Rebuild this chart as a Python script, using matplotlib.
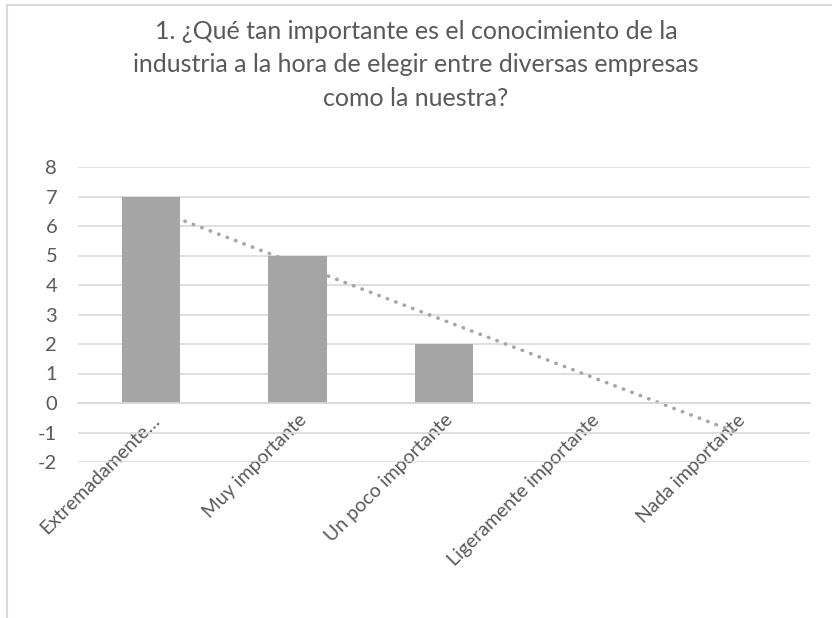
import matplotlib.pyplot as plt
import numpy as np
from matplotlib.patches import Rectangle

# Data
categorias = ['Extremadamente…', 'Muy importante', 'Un poco importante',
              'Ligeramente importante', 'Nada importante']
valores = [7, 5, 2, 0, 0]
y_ticks = [-2, -1, 0, 1, 2, 3, 4, 5, 6, 7, 8]
titulo = ('1. ¿Qué tan importante es el conocimiento de la\n'
          'industria a la hora de elegir entre diversas empresas\n'
          'como la nuestra?')

plt.rcParams['font.family'] = ['Lato', 'DejaVu Sans']
plt.rcParams['axes.unicode_minus'] = False
texto = '#595959'
gris = '#a5a5a5'
rejilla = '#d9d9d9'

fig = plt.figure(figsize=(8.32, 6.18), dpi=100)
ax = fig.add_axes([78 / 832, 1 - 462 / 618, 732 / 832, 295 / 618])

x = np.arange(1, len(valores) + 1)

# linear trendline (behind the bars, like Excel)
m, b = np.polyfit(x, valores, 1)
ax.plot(x, m * x + b, color=gris, lw=2.6, linestyle=(0, (0.1, 2.4)),
        dash_capstyle='round', zorder=1)

ax.bar(x, valores, width=0.4, color=gris, zorder=2)

ax.set_xlim(0.5, len(valores) + 0.5)
ax.set_ylim(-2, 8)
ax.set_yticks(y_ticks)
ax.yaxis.grid(True, color=rejilla, lw=1.2, zorder=0)
ax.set_axisbelow(True)

for s in ['top', 'right', 'left']:
    ax.spines[s].set_visible(False)
ax.spines['bottom'].set_position(('data', 0))
ax.spines['bottom'].set_color(rejilla)
ax.spines['bottom'].set_linewidth(1.2)

ax.set_xticks(x)
ax.set_xticklabels(categorias, rotation=45, ha='right', rotation_mode='anchor')
ax.tick_params(axis='x', length=0, pad=6, labelsize=14, labelcolor=texto)
ax.tick_params(axis='y', length=0, pad=15, labelsize=14.5, labelcolor=texto)

fig.text(0.5, 1 - 20 / 618, titulo, ha='center', va='top', fontsize=18,
         color=texto, linespacing=1.55)

# chart border
fig.patches.append(Rectangle((7 / 832, -0.1), 1.0, 1 - 5 / 618 + 0.1,
                             transform=fig.transFigure, fill=False,
                             edgecolor=rejilla, lw=1.5))

plt.savefig('out.png', dpi=100)
plt.close()
